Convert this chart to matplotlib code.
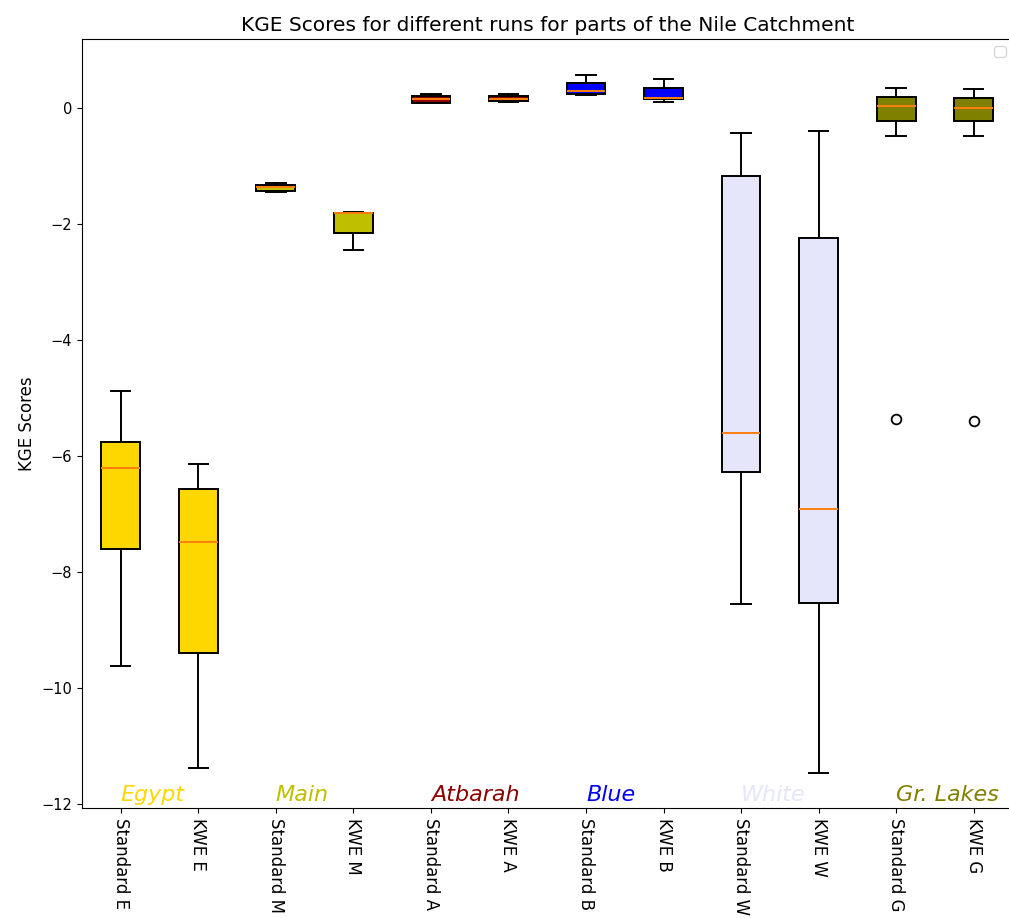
import matplotlib
matplotlib.use("Agg")
import matplotlib.pyplot as plt

labels = ["Standard E", "KWE E", "Standard M", "KWE M", "Standard A", "KWE A",
          "Standard B", "KWE B", "Standard W", "KWE W", "Standard G", "KWE G"]
# five-number summaries: low whisker, Q1, median, Q3, high whisker
whislo = [-9.62, -11.38, -1.45, -2.45, 0.08, 0.098, 0.219, 0.098, -8.55, -11.47, -0.48, -0.49]
q1 = [-7.60, -9.40, -1.43, -2.16, 0.09, 0.115, 0.236, 0.15, -6.28, -8.53, -0.22, -0.224]
med = [-6.21, -7.48, -1.37, -1.81, 0.15, 0.16, 0.293, 0.167, -5.60, -6.91, 0.04, 0.005]
q3 = [-5.76, -6.57, -1.33, -1.81, 0.207, 0.207, 0.436, 0.34, -1.17, -2.24, 0.195, 0.18]
whishi = [-4.88, -6.14, -1.30, -1.79, 0.236, 0.236, 0.574, 0.50, -0.43, -0.40, 0.35, 0.33]
fliers = [[], [], [], [], [], [], [], [], [], [], [-5.36], [-5.40]]

groups = ["Egypt", "Main", "Atbarah", "Blue", "White", "Gr. Lakes"]
group_colors = ["gold", "y", "darkred", "blue", "lavender", "olive"]

stats = []
for i, name in enumerate(labels):
    stats.append({"label": name, "whislo": whislo[i], "q1": q1[i], "med": med[i],
                  "q3": q3[i], "whishi": whishi[i], "fliers": fliers[i]})

fig = plt.figure(figsize=(10.09, 9.18), dpi=100)
ax = fig.add_axes([82 / 1009, 110 / 918, 930.5 / 1009, 769 / 918])

lw = 1.4
bp = ax.bxp(stats, patch_artist=True,
            boxprops=dict(linewidth=lw),
            whiskerprops=dict(linewidth=lw),
            capprops=dict(linewidth=lw),
            medianprops=dict(linewidth=lw, color="C1"),
            flierprops=dict(markersize=7, markeredgewidth=1.3))
for i, box in enumerate(bp["boxes"]):
    box.set_facecolor(group_colors[i // 2])

ax.set_ylim(-12.07, 1.19)
for g, (name, col) in enumerate(zip(groups, group_colors)):
    ax.text(2 * g + 1, -11.95, name, color=col, fontsize=16, style="italic", ha="left")

ax.set_title("KGE Scores for different runs for parts of the Nile Catchment", fontsize=14.5)
ax.set_ylabel("KGE Scores", fontsize=12)
plt.setp(ax.get_xticklabels(), rotation=270, fontsize=12)
plt.setp(ax.get_yticklabels(), fontsize=10.5)
ax.legend(loc="upper right")

fig.savefig("out.png", dpi=100)
